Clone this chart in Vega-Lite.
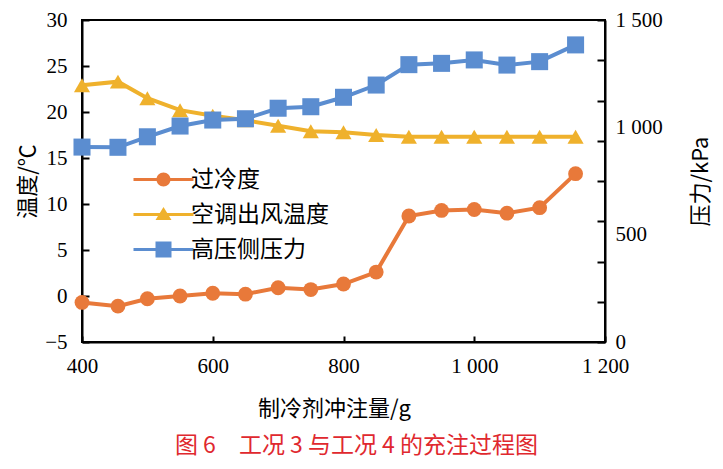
{
  "$schema": "https://vega.github.io/schema/vega-lite/v6.json",
  "width": 523,
  "height": 322,
  "autosize": {"type": "none"},
  "padding": {"left": 82, "top": 20, "right": 118, "bottom": 127},
  "background": "white",
  "config": {
    "view": {"stroke": "#000", "strokeWidth": 2},
    "axis": {
      "grid": false,
      "domainColor": "#000",
      "domainWidth": 2,
      "tickColor": "#000",
      "tickWidth": 2,
      "labelFont": "Liberation Serif",
      "labelFontSize": 21,
      "labelColor": "#000",
      "labelFlush": false,
      "titleFont": "Noto Sans CJK SC",
      "titleFontSize": 22,
      "titleFontWeight": "normal",
      "titleColor": "#000"
    }
  },
  "title": {
    "text": "图 6\u2003工况 3 与工况 4 的充注过程图",
    "orient": "bottom",
    "anchor": "middle",
    "dx": 13,
    "offset": 16,
    "font": "Noto Sans CJK SC",
    "fontSize": 23,
    "fontWeight": "normal",
    "color": "#E0282E"
  },
  "data": {
    "values": [
      {"x": 400, "series": "过冷度", "value": -0.7},
      {"x": 455, "series": "过冷度", "value": -1.1},
      {"x": 500, "series": "过冷度", "value": -0.3},
      {"x": 550, "series": "过冷度", "value": 0.0},
      {"x": 600, "series": "过冷度", "value": 0.3},
      {"x": 650, "series": "过冷度", "value": 0.2},
      {"x": 700, "series": "过冷度", "value": 0.9},
      {"x": 750, "series": "过冷度", "value": 0.7},
      {"x": 800, "series": "过冷度", "value": 1.3},
      {"x": 850, "series": "过冷度", "value": 2.6},
      {"x": 900, "series": "过冷度", "value": 8.7},
      {"x": 950, "series": "过冷度", "value": 9.3},
      {"x": 1000, "series": "过冷度", "value": 9.4},
      {"x": 1050, "series": "过冷度", "value": 9.0},
      {"x": 1100, "series": "过冷度", "value": 9.6},
      {"x": 1155, "series": "过冷度", "value": 13.3},
      {"x": 400, "series": "空调出风温度", "value": 22.9},
      {"x": 455, "series": "空调出风温度", "value": 23.3},
      {"x": 500, "series": "空调出风温度", "value": 21.5},
      {"x": 550, "series": "空调出风温度", "value": 20.2},
      {"x": 600, "series": "空调出风温度", "value": 19.6},
      {"x": 650, "series": "空调出风温度", "value": 19.1},
      {"x": 700, "series": "空调出风温度", "value": 18.5},
      {"x": 750, "series": "空调出风温度", "value": 17.9},
      {"x": 800, "series": "空调出风温度", "value": 17.8},
      {"x": 850, "series": "空调出风温度", "value": 17.5},
      {"x": 900, "series": "空调出风温度", "value": 17.3},
      {"x": 950, "series": "空调出风温度", "value": 17.3},
      {"x": 1000, "series": "空调出风温度", "value": 17.3},
      {"x": 1050, "series": "空调出风温度", "value": 17.3},
      {"x": 1100, "series": "空调出风温度", "value": 17.3},
      {"x": 1155, "series": "空调出风温度", "value": 17.3},
      {"x": 400, "series": "高压侧压力", "value": 908},
      {"x": 455, "series": "高压侧压力", "value": 907},
      {"x": 500, "series": "高压侧压力", "value": 956},
      {"x": 550, "series": "高压侧压力", "value": 1006},
      {"x": 600, "series": "高压侧压力", "value": 1034},
      {"x": 650, "series": "高压侧压力", "value": 1040},
      {"x": 700, "series": "高压侧压力", "value": 1089},
      {"x": 750, "series": "高压侧压力", "value": 1096},
      {"x": 800, "series": "高压侧压力", "value": 1140},
      {"x": 850, "series": "高压侧压力", "value": 1197},
      {"x": 900, "series": "高压侧压力", "value": 1292},
      {"x": 950, "series": "高压侧压力", "value": 1298},
      {"x": 1000, "series": "高压侧压力", "value": 1314},
      {"x": 1050, "series": "高压侧压力", "value": 1290},
      {"x": 1100, "series": "高压侧压力", "value": 1306},
      {"x": 1155, "series": "高压侧压力", "value": 1384}
    ]
  },
  "encoding": {
    "x": {
      "field": "x",
      "type": "quantitative",
      "scale": {"domain": [400, 1200], "nice": false},
      "axis": {
        "values": [400, 600, 800, 1000, 1200],
        "labelExpr": "replace(format(datum.value, ','), ',', ' ')",
        "labelFlush": false,
        "title": "制冷剂冲注量/g",
        "tickSize": -6,
        "labelPadding": 19,
        "titlePadding": 22,
        "titleX": 252
      }
    },
    "color": {
      "field": "series",
      "type": "nominal",
      "scale": {
        "domain": ["过冷度", "空调出风温度", "高压侧压力"],
        "range": ["#E8793A", "#EFB12C", "#5B8DD0"]
      },
      "legend": {
        "orient": "none",
        "legendX": 70,
        "legendY": 148,
        "title": null,
        "padding": 0,
        "labelFont": "Noto Sans CJK SC",
        "labelFontSize": 23,
        "labelColor": "#000",
        "labelOffset": 16,
        "rowPadding": 11,
        "symbolSize": 400,
        "symbolOpacity": 1,
        "symbolStrokeWidth": 0
      }
    }
  },
  "layer": [
    {
      "transform": [{"filter": "datum.series !== '高压侧压力'"}],
      "encoding": {
        "y": {
          "field": "value",
          "type": "quantitative",
          "scale": {"domain": [-5, 30], "nice": false},
          "axis": {
            "values": [-5, 0, 5, 10, 15, 20, 25, 30],
            "title": "温度/℃",
            "tickSize": -7,
            "labelPadding": 22,
            "titlePadding": 5
          }
        }
      },
      "layer": [
        {"mark": {"type": "line", "strokeWidth": 4}},
        {
          "transform": [{"filter": "datum.series === '过冷度'"}],
          "mark": {"type": "point", "filled": true, "opacity": 1, "shape": "circle", "size": 220}
        },
        {
          "transform": [{"filter": "datum.series === '空调出风温度'"}],
          "mark": {"type": "point", "filled": true, "opacity": 1, "shape": "triangle-up", "size": 260}
        }
      ]
    },
    {
      "transform": [{"filter": "datum.series === '高压侧压力'"}],
      "encoding": {
        "y": {
          "field": "value",
          "type": "quantitative",
          "scale": {"domain": [0, 1500], "nice": false},
          "axis": {
            "orient": "right",
            "values": [0, 187.5, 375, 562.5, 750, 937.5, 1125, 1312.5, 1500, 500, 1000],
            "labelExpr": "datum.value % 500 === 0 ? replace(format(datum.value, ','), ',', ' ') : ''",
            "tickOpacity": {"condition": {"test": "datum.value % 187.5 === 0", "value": 1}, "value": 0},
            "title": "压力/kPa",
            "titleAngle": 270,
            "titleBaseline": "top",
            "tickSize": -8,
            "labelPadding": 18,
            "titlePadding": 28
          }
        }
      },
      "layer": [
        {"mark": {"type": "line", "strokeWidth": 4}},
        {"mark": {"type": "point", "filled": true, "opacity": 1, "shape": "square", "size": 290}}
      ]
    },
    {
      "mark": {"type": "point", "filled": true, "opacity": 0, "size": 1},
      "encoding": {
        "y": {"field": "value", "type": "quantitative", "axis": null},
        "shape": {
          "field": "series",
          "type": "nominal",
          "scale": {
            "domain": ["过冷度", "空调出风温度", "高压侧压力"],
            "range": [
              "M-3,-0.15H3V0.15H-3ZM-0.7,0A0.7,0.7,0,1,1,0.7,0A0.7,0.7,0,1,1,-0.7,0Z",
              "M-3,-0.15H3V0.15H-3ZM0,-0.75L0.8,0.55L-0.8,0.55Z",
              "M-3,-0.15H3V0.15H-3ZM-0.8,-0.8H0.8V0.8H-0.8Z"
            ]
          },
          "legend": null
        }
      }
    }
  ],
  "resolve": {"scale": {"y": "independent"}}
}
